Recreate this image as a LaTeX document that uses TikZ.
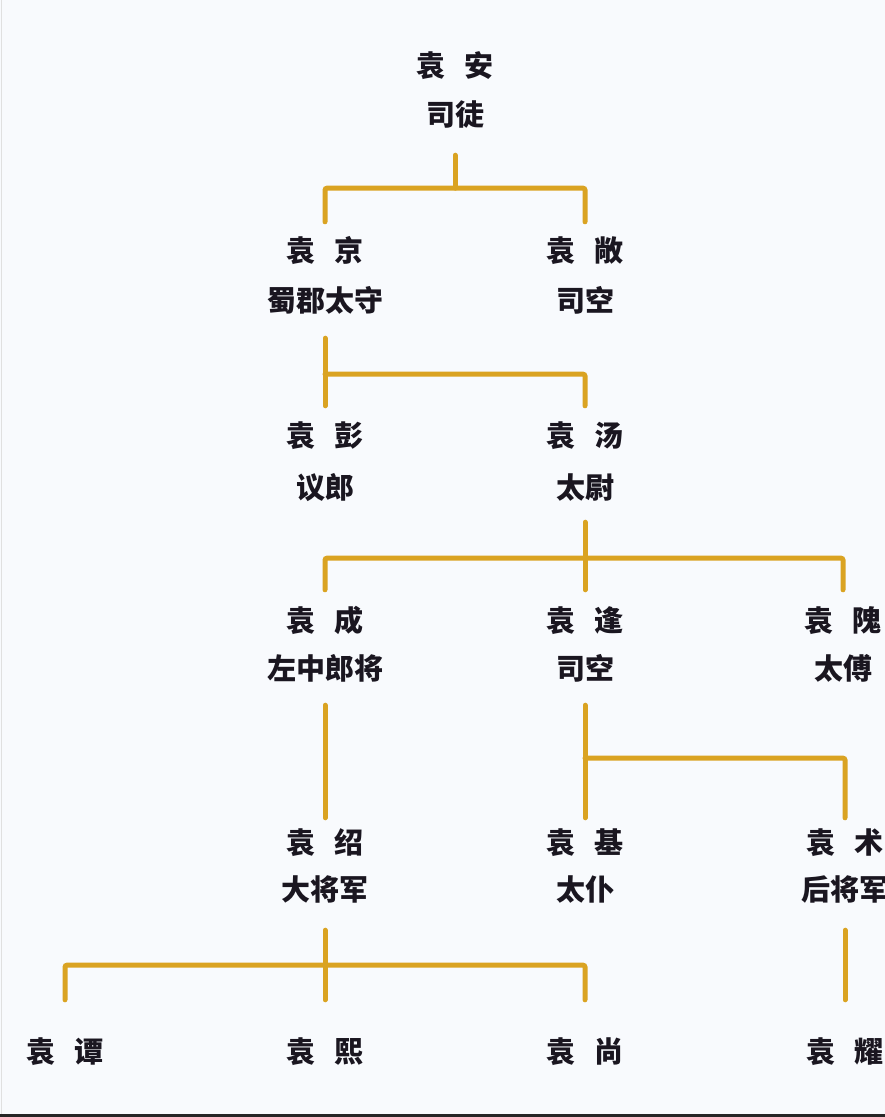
\documentclass[tikz,border=0pt]{standalone}
\usepackage{fontspec}
\newfontfamily\cjk{Noto Sans CJK SC}
\usetikzlibrary{calc}
\definecolor{bgc}{RGB}{248,250,253}
\definecolor{ink}{RGB}{26,22,32}
\definecolor{gold}{RGB}{218,163,34}
\tikzset{
  person/.style={font=\cjk\bfseries\fontsize{29}{29}\selectfont, text=ink, inner sep=0pt,
                 text height=25pt, text depth=4pt, anchor=center},
  link/.style={draw=gold, line width=5pt, line cap=round, rounded corners=2pt}
}
\newcommand{\nm}[2]{#1\hspace{19pt}#2}
\begin{document}
\begin{tikzpicture}[x=1pt,y=-1pt]
\useasboundingbox (0,0) rectangle (885,1117);
\clip (0,0) rectangle (885,1117);
\fill[bgc] (0,0) rectangle (885,1117);
\fill[black!85] (0,1113.5) rectangle (885,1117);
\fill[black!12] (0.5,0) rectangle (2,1113.5);

% generation 1
\node[person] (aN) at (455,66) {\nm{袁}{安}};
\node[person] (aT) at (455,115) {司徒};
% generation 2
\node[person] (jN) at (325,251) {\nm{袁}{京}};
\node[person] (jT) at (325,301) {蜀郡太守};
\node[person] (cN) at (585,251) {\nm{袁}{敞}};
\node[person] (cT) at (585,301) {司空};
% generation 3
\node[person] (pN) at (325,436) {\nm{袁}{彭}};
\node[person] (pT) at (325,488) {议郎};
\node[person] (tN) at (585,436) {\nm{袁}{汤}};
\node[person] (tT) at (585,488) {太尉};
% generation 4
\node[person] (chN) at (325,621) {\nm{袁}{成}};
\node[person] (chT) at (325,669) {左中郎将};
\node[person] (fN) at (585,621) {\nm{袁}{逢}};
\node[person] (fT) at (585,669) {司空};
\node[person] (wN) at (843,621) {\nm{袁}{隗}};
\node[person] (wT) at (843,669) {太傅};
% generation 5
\node[person] (sN) at (325,843) {\nm{袁}{绍}};
\node[person] (sT) at (325,890) {大将军};
\node[person] (qN) at (585,843) {\nm{袁}{基}};
\node[person] (qT) at (585,890) {太仆};
\node[person] (shN) at (845,843) {\nm{袁}{术}};
\node[person] (shT) at (845,890) {后将军};
% generation 6
\node[person] (tanN) at (65,1052) {\nm{袁}{谭}};
\node[person] (xiN) at (325,1052) {\nm{袁}{熙}};
\node[person] (sgN) at (585,1052) {\nm{袁}{尚}};
\node[person] (yaoN) at (845,1052) {\nm{袁}{耀}};

% 袁安 -> 袁京, 袁敞
\coordinate (b1) at ($(aT.south)+(0,58.5)$);
\draw[link] ($(aT.south)+(0,25.5)$) -- (b1);
\draw[link] ($(jN.north)+(0,-14.5)$) |- (b1) -| ($(cN.north)+(0,-14.5)$);

% 袁京 -> 袁彭, 袁汤
\coordinate (b2) at ($(jT.south)+(0,58.5)$);
\draw[link] ($(jT.south)+(0,22.5)$) -- ($(pN.north)+(0,-15.5)$);
\draw[link] (b2) -| ($(tN.north)+(0,-15.5)$);

% 袁汤 -> 袁成, 袁逢, 袁隗
\coordinate (b3) at ($(tT.south)+(0,55.5)$);
\draw[link] ($(tT.south)+(0,19.5)$) -- ($(fN.north)+(0,-16.5)$);
\draw[link] ($(chN.north)+(0,-16.5)$) |- (b3) -| ($(wN.north)+(0,-16.5)$);

% 袁成 -> 袁绍
\draw[link] ($(chT.south)+(0,21.5)$) -- ($(sN.north)+(0,-10.5)$);

% 袁逢 -> 袁基, 袁术
\coordinate (b4) at ($(fT.south)+(0,74.5)$);
\draw[link] ($(fT.south)+(0,21.5)$) -- ($(qN.north)+(0,-10.5)$);
\draw[link] (b4) -| ($(shN.north)+(0,-10.5)$);

% 袁绍 -> 袁谭, 袁熙, 袁尚
\coordinate (b5) at ($(sT.south)+(0,60.5)$);
\draw[link] ($(sT.south)+(0,25.5)$) -- ($(xiN.north)+(0,-37.5)$);
\draw[link] ($(tanN.north)+(0,-37.5)$) |- (b5) -| ($(sgN.north)+(0,-37.5)$);

% 袁术 -> 袁耀
\draw[link] ($(shT.south)+(0,25.5)$) -- ($(yaoN.north)+(0,-37.5)$);
\end{tikzpicture}
\end{document}
